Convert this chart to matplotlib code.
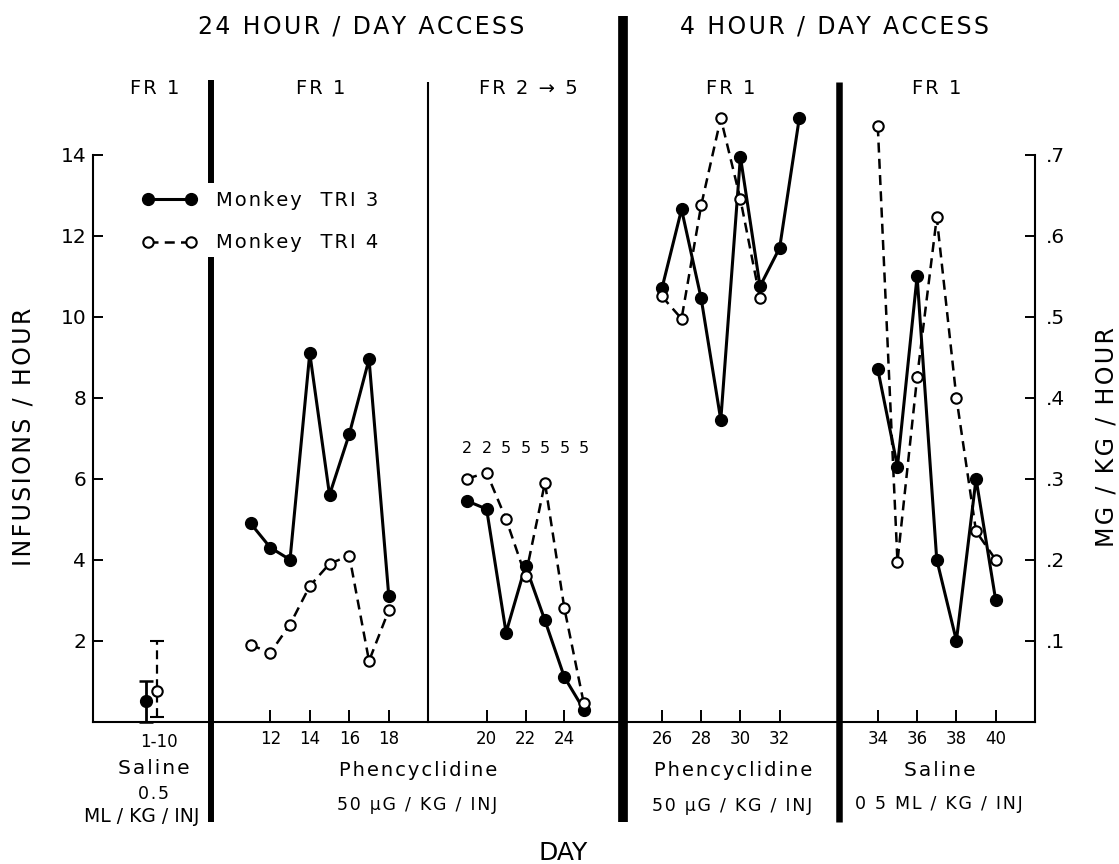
import matplotlib
matplotlib.use("Agg")
import matplotlib.pyplot as plt
from matplotlib.lines import Line2D

plt.rcParams['font.family'] = 'DejaVu Sans'

# infusions per hour, by session day
saline_mean = [0.5, 0.75]          # TRI 3, TRI 4, days 1-10
saline_low = [0.0, 0.12]
saline_high = [1.0, 2.0]

days_p2 = [11, 12, 13, 14, 15, 16, 17, 18]
tri3_p2 = [4.9, 4.3, 4.0, 9.1, 5.6, 7.1, 8.95, 3.1]
tri4_p2 = [1.9, 1.7, 2.4, 3.35, 3.9, 4.1, 1.5, 2.75]

days_p3 = [19, 20, 21, 22, 23, 24, 25]
tri3_p3 = [5.45, 5.25, 2.2, 3.85, 2.5, 1.1, 0.3]
tri4_p3 = [6.0, 6.15, 5.0, 3.6, 5.9, 2.8, 0.45]
fr_p3 = [2, 2, 5, 5, 5, 5, 5]

days_p4_tri3 = [26, 27, 28, 29, 30, 31, 32, 33]
tri3_p4 = [10.7, 12.65, 10.45, 7.45, 13.95, 10.75, 11.7, 14.9]
days_p4_tri4 = [26, 27, 28, 29, 30, 31]
tri4_p4 = [10.5, 9.95, 12.75, 14.9, 12.9, 10.45]

days_p5 = [34, 35, 36, 37, 38, 39, 40]
tri3_p5 = [8.7, 6.3, 11.0, 4.0, 2.0, 6.0, 3.0]
tri4_p5 = [14.7, 3.95, 8.5, 12.45, 8.0, 4.7, 4.0]

W, H = 1119, 864
fig = plt.figure(figsize=(W / 100, H / 100), dpi=100)

base = 721.7     # pixel row of the x axis
unit = 40.5      # pixels per infusion/hour


def fx(x):
    return x / W


def fy(y):
    return (H - y) / H


def spaced(s):
    # open up the lettering a little with hair spaces
    return '\u200a'.join(s)


def panel(x0, x1, xlim):
    ax = fig.add_axes([fx(x0), fy(base), (x1 - x0) / W, 16 * unit / H])
    ax.set_xlim(*xlim)
    ax.set_ylim(0, 16)
    for s in ['top', 'left', 'right']:
        ax.spines[s].set_visible(False)
    ax.spines['bottom'].set_linewidth(1.5)
    ax.set_yticks([])
    ax.tick_params(axis='x', direction='in', length=8.5, width=1.4,
                   labelsize=12, pad=6)
    ax.patch.set_alpha(0)
    return ax


solid = dict(color='k', lw=2.2, marker='o', ms=8.5, clip_on=False, zorder=3)
dashed = dict(color='k', lw=1.8, ls=(0, (4, 2.5)), marker='o', ms=7.5,
              mfc='white', mec='k', mew=1.5, clip_on=False, zorder=4)

# saline baseline, days 1-10
ax1 = panel(93.3, 211, (0, 6))
ax1.spines['left'].set_visible(True)
ax1.spines['left'].set_linewidth(1.5)
ax1.spines['left'].set_bounds(0, 14)
ax1.set_yticks(range(2, 15, 2))
ax1.tick_params(axis='y', direction='in', length=7, width=1.4,
                labelsize=14.5, pad=5)
ax1.set_xticks([3.35])
ax1.set_xticklabels(['1-10'])
ax1.tick_params(axis='x', length=0, pad=8)
xs = [2.67, 3.25]
e1 = ax1.errorbar(xs[0], saline_mean[0],
                  yerr=[[saline_mean[0] - saline_low[0]], [saline_high[0] - saline_mean[0]]],
                  fmt='o', color='k', ms=8.5, elinewidth=2, capsize=5, capthick=1.8,
                  clip_on=False, zorder=3)
e2 = ax1.errorbar(xs[1], saline_mean[1],
                  yerr=[[saline_mean[1] - saline_low[1]], [saline_high[1] - saline_mean[1]]],
                  fmt='o', color='k', mfc='white', mec='k', mew=1.5, ms=7.5,
                  elinewidth=1.6, capsize=5, capthick=1.6, clip_on=False, zorder=4)
e2[2][0].set_linestyle((0, (4, 2.5)))

# phencyclidine, FR 1
ax2 = panel(211, 428.3, (9, 20))
ax2.set_xticks([12, 14, 16, 18])
ax2.plot(days_p2, tri3_p2, **solid)
ax2.plot(days_p2, tri4_p2, **dashed)

# phencyclidine, FR 2 -> 5
ax3 = panel(428.3, 622.7, (17, 27))
ax3.set_xticks([20, 22, 24])
ax3.plot(days_p3, tri3_p3, **solid)
ax3.plot(days_p3, tri4_p3, **dashed)
for d, fr in zip(days_p3, fr_p3):
    ax3.text(d, 6.75, str(fr), ha='center', va='center', fontsize=11.5)

# 4 hour access, phencyclidine
ax4 = panel(622.7, 838.5, (24, 35))
ax4.set_xticks([26, 28, 30, 32])
ax4.plot(days_p4_tri3, tri3_p4, **solid)
ax4.plot(days_p4_tri4, tri4_p4, **dashed)

# 4 hour access, saline
ax5 = panel(838.5, 1035, (32, 42))
ax5.set_xticks([34, 36, 38, 40])
ax5.plot(days_p5, tri3_p5, **solid)
ax5.plot(days_p5, tri4_p5, **dashed)

ax5r = ax5.twinx()
ax5r.set_ylim(0, 0.8)
for s in ['top', 'left', 'bottom']:
    ax5r.spines[s].set_visible(False)
ax5r.spines['right'].set_linewidth(1.5)
ax5r.spines['right'].set_bounds(0, 0.7)
mg = [0.1, 0.2, 0.3, 0.4, 0.5, 0.6, 0.7]
ax5r.set_yticks(mg)
ax5r.set_yticklabels(['.%d' % round(v * 10) for v in mg])
ax5r.tick_params(axis='y', direction='in', length=7, width=1.4,
                 labelsize=14.5, pad=8)

# condition dividers
def vline(x, y0, y1, lw):
    fig.add_artist(Line2D([fx(x), fx(x)], [fy(y0), fy(y1)], color='k', lw=lw,
                          solid_capstyle='butt'))


vline(428.3, 82, base, 1.5)
vline(211, 80, 183, 4.3)
vline(211, 257, 822, 4.3)
vline(623, 16, 822, 7)
vline(838.5, 82, 822, 4.7)

# legend
handles = [Line2D([], [], **{k: v for k, v in solid.items() if k not in ('clip_on', 'zorder')}),
           Line2D([], [], **{k: v for k, v in dashed.items() if k not in ('clip_on', 'zorder')})]
fig.legend(handles, [spaced('Monkey') + '   ' + spaced('TRI 3'),
                     spaced('Monkey') + '   ' + spaced('TRI 4')], numpoints=2,
           loc='upper left', bbox_to_anchor=(fx(142), fy(191)),
           frameon=False, fontsize=14, handlelength=2.8, handletextpad=1.0,
           labelspacing=1.2, borderpad=0, borderaxespad=0)

# headings
fig.text(fx(361.5), fy(27), spaced('24 HOUR / DAY ACCESS'), ha='center', va='center', fontsize=17)
fig.text(fx(834), fy(27), spaced('4 HOUR / DAY ACCESS'), ha='center', va='center', fontsize=17)
for x, s in [(155, 'FR 1'), (321, 'FR 1'), (528, 'FR 2 \u2192 5'),
             (731, 'FR 1'), (937, 'FR 1')]:
    fig.text(fx(x), fy(89), spaced(s), ha='center', va='center', fontsize=14)

# axis titles
fig.text(fx(24), fy(437), spaced('INFUSIONS / HOUR'), rotation=90, ha='center', va='center', fontsize=17)
fig.text(fx(1106), fy(437), spaced('MG / KG / HOUR'), rotation=90, ha='center', va='center', fontsize=17)
fig.text(fx(563), fy(853), 'DAY', ha='center', va='center', fontsize=18)

# drug and dose under each condition
fig.text(fx(154), fy(769), spaced('Saline'), ha='center', va='center', fontsize=14.5)
fig.text(fx(153), fy(794), spaced('0.5'), ha='center', va='center', fontsize=12.5)
fig.text(fx(142), fy(816), 'ML / KG / INJ', ha='center', va='center', fontsize=13.5)
fig.text(fx(418), fy(770), spaced('Phencyclidine'), ha='center', va='center', fontsize=14)
fig.text(fx(417), fy(805), spaced('50 \u00b5G / KG / INJ'), ha='center', va='center', fontsize=12.5)
fig.text(fx(733), fy(770), spaced('Phencyclidine'), ha='center', va='center', fontsize=14)
fig.text(fx(732), fy(806), spaced('50 \u00b5G / KG / INJ'), ha='center', va='center', fontsize=12.5)
fig.text(fx(940), fy(770), spaced('Saline'), ha='center', va='center', fontsize=14.5)
fig.text(fx(939), fy(804), spaced('0 5 ML / KG / INJ'), ha='center', va='center', fontsize=12.5)

fig.savefig('out.png', dpi=100)
